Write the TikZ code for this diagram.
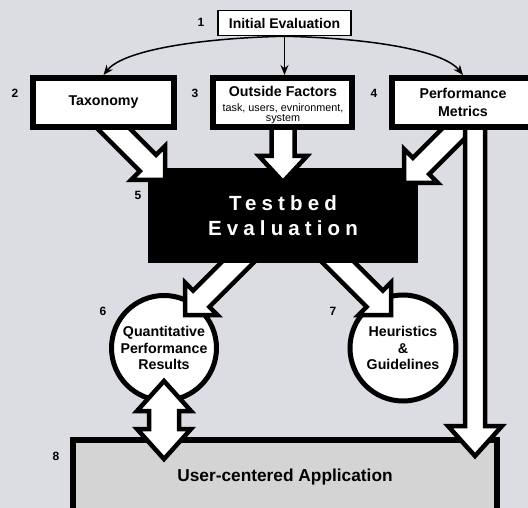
\documentclass[tikz,border=0pt]{standalone}
\usepackage{fontspec}
\setmainfont{Liberation Sans}
\newfontfamily\tbfont[LetterSpace=25]{Liberation Sans}
\usetikzlibrary{calc,arrows.meta}
\definecolor{bg}{RGB}{220,221,226}
\definecolor{appgray}{RGB}{212,212,212}
\tikzset{
  box/.style={draw=black, line width=6pt, fill=white, inner sep=0pt, align=center,
    font=\bfseries\fontsize{14.2}{17.5}\selectfont, minimum height=49pt},
  initbox/.style={draw=black, line width=1.5pt, fill=white, inner sep=0pt,
    font=\bfseries\fontsize{14}{16}\selectfont, minimum width=133pt, minimum height=25pt},
  circ/.style={circle, draw=black, line width=5pt, fill=white, inner sep=0pt, align=center,
    font=\bfseries\fontsize{14.2}{16.7}\selectfont},
  testbed/.style={fill=black, text=white, inner sep=0pt, align=center,
    font=\tbfont\bfseries\fontsize{20.5}{25}\selectfont, minimum width=270pt, minimum height=95pt},
  appbox/.style={draw=black, line width=6pt, fill=appgray, inner sep=0pt,
    font=\bfseries\fontsize{17.3}{20}\selectfont, minimum width=424pt, minimum height=74pt},
  num/.style={font=\bfseries\fontsize{12}{14}\selectfont, inner sep=0pt},
  conn/.style={line width=1.5pt, -{Stealth[length=10pt,width=8pt]}},
  blockarr/.style={draw=black, fill=white, line width=4.5pt, line join=miter},
}
\newcommand\blockarrow[5]{%
  \coordinate (bac) at ($(#2)!#5!(#1)$);
  \filldraw[blockarr] ($(#1)!#3!90:(#2)$) -- ($(bac)!#3!90:(#2)$) -- ($(bac)!#4!90:(#2)$)
    -- (#2) -- ($(bac)!#4!-90:(#2)$) -- ($(bac)!#3!-90:(#2)$) -- ($(#1)!#3!-90:(#2)$) -- cycle;}
\newcommand\dblockarrow[5]{%
  \coordinate (bca) at ($(#1)!#5!(#2)$);
  \coordinate (bcb) at ($(#2)!#5!(#1)$);
  \filldraw[blockarr] (#1) -- ($(bca)!#4!90:(#2)$) -- ($(bca)!#3!90:(#2)$) -- ($(bcb)!#3!90:(#2)$)
    -- ($(bcb)!#4!90:(#2)$) -- (#2) -- ($(bcb)!#4!-90:(#2)$) -- ($(bcb)!#3!-90:(#2)$)
    -- ($(bca)!#3!-90:(#2)$) -- ($(bca)!#4!-90:(#2)$) -- cycle;}
\begin{document}
\begin{tikzpicture}[x=1pt,y=-1pt]
\useasboundingbox (0,0) rectangle (528,508);
\clip (0,0) rectangle (528,508);
\fill[bg] (0,0) rectangle (528,508);
% result circles
\node[circ, minimum size=105pt] (quant) at (164,348) {Quantitative\\Performance\\Results};
\node[circ, minimum size=106pt] (heur) at (403,348) {Heuristics\\\&\\Guidelines};
% arrows from testbed to circles
\coordinate (tbq) at (255,245);
\coordinate (qin) at (185,315);
\coordinate (tbh) at (321,245);
\coordinate (hin) at (391,315);
\blockarrow{tbq}{qin}{11.5pt}{23pt}{23pt}
\blockarrow{tbh}{hin}{11.5pt}{23pt}{23pt}
% testbed
\node[testbed] (tb) at (283,215.5) {Testbed\\Evaluation};
% arrows into testbed
\coordinate (taxo) at (95,110);
\coordinate (tbin1) at (165,180);
\coordinate (outo) at (283,115);
\coordinate (tbin2) at (283,182);
\coordinate (perfo) at (474,113);
\coordinate (tbin3) at (404,183);
\blockarrow{taxo}{tbin1}{11.5pt}{24pt}{24pt}
\blockarrow{outo}{tbin2}{11.5pt}{24pt}{26pt}
\blockarrow{perfo}{tbin3}{11.5pt}{24pt}{24pt}
% application
\node[appbox] (app) at (285,477) {User-centered Application};
\coordinate (perfv) at (475,115);
\coordinate (appin) at (475,456);
\blockarrow{perfv}{appin}{10pt}{27pt}{30pt}
\coordinate (qout) at (164,381);
\coordinate (appq) at (164,459);
\dblockarrow{qout}{appq}{15pt}{27pt}{30pt}
% top boxes
\node[box, minimum width=141pt] (tax) at (103.5,102.5) {Taxonomy};
\node[box, minimum width=139pt] (out) at (282.5,102.5) {};
\node[font=\bfseries\fontsize{14.2}{17}\selectfont, inner sep=0pt] (outt) at (283,91) {Outside Factors};
\node[font=\fontsize{10.8}{10}\selectfont, align=center, inner sep=0pt] (outs) at (283,113.5) {task, users, evnironment,\\system};
\node[box, minimum width=142pt] (perf) at (463,102.5) {Performance\\Metrics};
\node[initbox] (init) at (284.5,23) {Initial Evaluation};
% thin connectors
\draw[conn] (init.south) .. controls +(-85,2) and +(20,-25) .. (tax.north);
\draw[conn] (init.south) .. controls +(85,2) and +(-20,-25) .. (perf.north);
\draw[conn] (init.south) -- (init.south |- out.north);
% numbers
\node[num] (n1) at (201,22) {1};
\node[num] (n2) at (15,93) {2};
\node[num] (n3) at (195,93) {3};
\node[num] (n4) at (374,93) {4};
\node[num] (n5) at (138,195) {5};
\node[num] (n6) at (103,311) {6};
\node[num] (n7) at (333,311) {7};
\node[num] (n8) at (56,456) {8};
\end{tikzpicture}
\end{document}
